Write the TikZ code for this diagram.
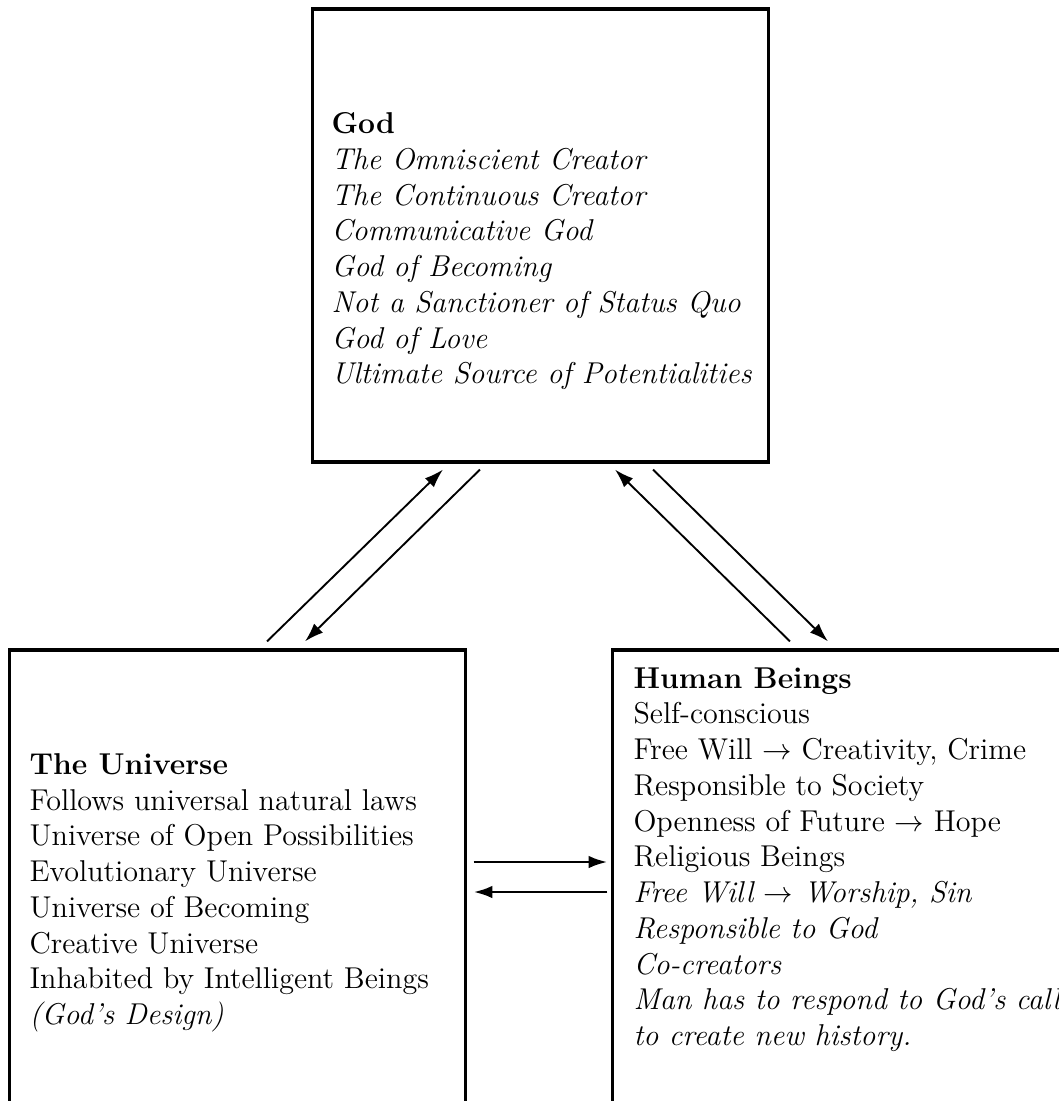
\documentclass[tikz,border=0pt]{standalone}
\usepackage{amsmath}
\usepackage{tikz}
\usetikzlibrary{arrows.meta, calc}

\tikzset{
  panel/.style={draw, line width=1.15pt, minimum width=169.3pt, minimum height=169.3pt, inner sep=0pt},
  paneltext/.style={anchor=north west, align=left, inner sep=0pt, font=\fontsize{11.2pt}{13.3pt}\selectfont},
  link/.style={-{Latex[length=7pt,width=4.7pt]}, line width=0.7pt},
  flatlink/.style={-{Latex[length=7pt,width=4.7pt]}, line width=1.05pt}
}

\begin{document}
\begin{tikzpicture}[x=0.372pt,y=-0.372pt]
\useasboundingbox (0,0) rectangle (1059,1101);
\clip (0,0) rectangle (1059,1101);

% the three boxes
\node[panel, minimum height=168.5pt] (god) at (540.5,235.5) {};
\node[panel] (univ) at (237.5,877.5) {};
\node[panel] (human) at (840.5,877.5) {};

% what is written in them
\node[paneltext] (godtext) at (331,112) {\textbf{God}\\
 \textit{The Omniscient Creator}\\
 \textit{The Continuous Creator}\\
 \textit{Communicative God}\\
 \textit{God of Becoming}\\
 \textit{Not a Sanctioner of Status Quo}\\
 \textit{God of Love}\\
 \textit{Ultimate Source of Potentialities}};

\node[paneltext] (univtext) at (29,753) {\textbf{The Universe}\\
 Follows universal natural laws\\
 Universe of Open Possibilities\\
 Evolutionary Universe\\
 Universe of Becoming\\
 Creative Universe\\
 Inhabited by Intelligent Beings\\
 \textit{(God's Design)}};

\node[paneltext] (humantext) at (633,667) {\textbf{Human Beings}\\
 Self-conscious\\
 Free Will $\rightarrow$ Creativity, Crime\\
 Responsible to Society\\
 Openness of Future $\rightarrow$ Hope\\
 Religious Beings\\
 \textit{Free Will $\rightarrow$ Worship, Sin}\\
 \textit{Responsible to God}\\
 \textit{Co-creators}\\
 \textit{Man has to respond to God's call}\\
 \textit{to create new history.}};

% god and the universe
\draw[link] ($(univ.north)+(29.5,-7)$) -- ($(god.south)+(-97.5,6)$);
\draw[link] ($(god.south)+(-60.5,6)$) -- ($(univ.north)+(67.5,-7)$);

% god and human beings
\draw[link] ($(human.north)+(-50.5,-7)$) -- ($(god.south)+(74.5,6)$);
\draw[link] ($(god.south)+(112.5,6)$) -- ($(human.north)+(-12.5,-7)$);

% the universe and human beings
\draw[flatlink] ($(univ.east)+(7,-15.5)$) -- ($(human.west)+(-4,-15.5)$);
\draw[flatlink] ($(human.west)+(-4,14.5)$) -- ($(univ.east)+(7,14.5)$);
\end{tikzpicture}
\end{document}
